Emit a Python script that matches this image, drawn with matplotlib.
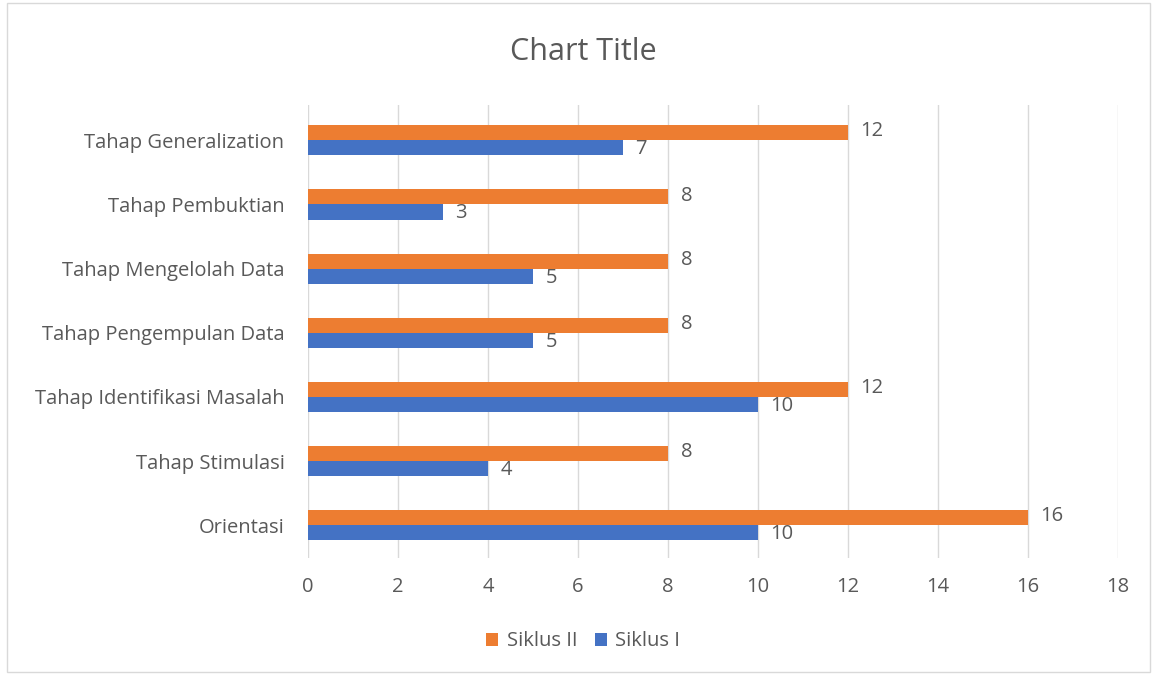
import matplotlib.pyplot as plt
import numpy as np
from matplotlib.patches import Rectangle

categories = ["Orientasi", "Tahap Stimulasi", "Tahap Identifikasi Masalah",
              "Tahap Pengempulan Data", "Tahap Mengelolah Data",
              "Tahap Pembuktian", "Tahap Generalization"]
siklus_1 = [10, 4, 10, 5, 5, 3, 7]
siklus_2 = [16, 8, 12, 8, 8, 8, 12]
x_ticks = [0, 2, 4, 6, 8, 10, 12, 14, 16, 18]

plt.rcParams['font.family'] = ['Open Sans', 'DejaVu Sans']
TEXT = '#595959'
BLUE = '#4472C4'
ORANGE = '#ED7D31'
FS = 14.5

fig = plt.figure(figsize=(11.55, 6.75), dpi=100)
ax = fig.add_axes([0.2667, 0.1733, 0.968 - 0.2667, 0.8444 - 0.1733])

y = np.arange(len(categories))
h = 0.235
ax.barh(y - h / 2, siklus_1, height=h, color=BLUE, label="Siklus I", zorder=3)
ax.barh(y + h / 2, siklus_2, height=h, color=ORANGE, label="Siklus II", zorder=3)

for yi, v in zip(y, siklus_1):
    ax.annotate(f'{v}', xy=(v, yi - h / 2), xytext=(9, -1), textcoords='offset points',
                va='center', ha='left', fontsize=FS, color=TEXT)
for yi, v in zip(y, siklus_2):
    ax.annotate(f'{v}', xy=(v, yi + h / 2), xytext=(9, 1), textcoords='offset points',
                va='center', ha='left', fontsize=FS, color=TEXT)

ax.set_xlim(0, 18)
ax.set_ylim(-0.51, 6.55)
ax.set_xticks(x_ticks)
ax.set_yticks(y)
ax.set_yticklabels(categories)
ax.tick_params(axis='both', length=0, labelsize=FS, colors=TEXT)
ax.tick_params(axis='x', pad=14)
ax.tick_params(axis='y', pad=17)
ax.grid(axis='x', color='#D9D9D9', linewidth=1, zorder=0)
for s in ax.spines.values():
    s.set_visible(False)

fig.text(0.505, 0.923, "Chart Title", ha='center', va='center', fontsize=22, color=TEXT)

handles, labels = ax.get_legend_handles_labels()
fig.legend(handles[::-1], labels[::-1], loc='center', bbox_to_anchor=(0.505, 0.05), ncol=2,
           frameon=False, fontsize=FS, labelcolor=TEXT, handlelength=0.6, handleheight=0.6,
           columnspacing=0.9, handletextpad=0.4)

fig.patches.append(Rectangle((0.006, 0.005), 0.99, 0.99, transform=fig.transFigure,
                             fill=False, edgecolor='#D9D9D9', linewidth=1))

fig.savefig('out.png', dpi=100)
